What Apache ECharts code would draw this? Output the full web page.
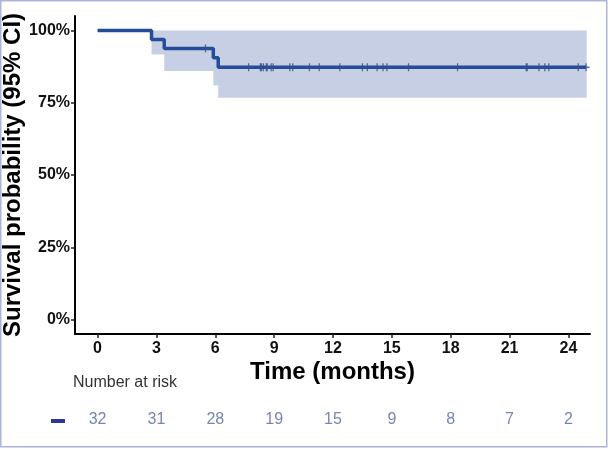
<!DOCTYPE html>
<html>
<head>
<meta charset="utf-8">
<script src="https://cdn.jsdelivr.net/npm/echarts@6/dist/echarts.min.js"></script>
<style>
html,body{margin:0;padding:0;background:#fff;}
#chart{width:608px;height:449px;}
</style>
</head>
<body>
<div id="chart"></div>
<script>
// Kaplan-Meier step points (months, survival)
var kmTimes    = [0, 2.75, 3.4, 5.9, 6.15, 24.9];
var kmSurv     = [1.0, 0.96875, 0.9375, 0.9052, 0.8728, 0.8728];
var ciLower    = [1.0, 0.917, 0.86, 0.81, 0.767, 0.767];
var ciUpper    = [1.0, 1.0, 1.0, 1.0, 1.0, 1.0];
// censoring times (months)
var censorTimes = [5.5, 7.7, 8.3, 8.35, 8.45, 8.6, 8.65, 8.85, 8.95,
                   9.8, 9.95, 10.8, 11.3,
                   12.35, 13.5, 13.75, 14.25, 14.55, 14.75,
                   15.85, 18.35,
                   21.85, 21.9, 22.5, 22.8, 23.0,
                   24.5, 24.9];
var xTicks = [0, 3, 6, 9, 12, 15, 18, 21, 24];
var yTicks = [0, 0.25, 0.5, 0.75, 1];
var riskTimes  = [0, 3, 6, 9, 12, 15, 18, 21, 24];
var riskCounts = [32, 31, 28, 19, 15, 9, 8, 7, 2];

var LINE = '#244c98';
var BAND = '#c6cfe3';
var FONT = 'Liberation Sans, Arial, sans-serif';

function survAt(t) {
  var s = kmSurv[0];
  for (var i = 0; i < kmTimes.length; i++) { if (kmTimes[i] <= t) s = kmSurv[i]; }
  return s;
}
var survData = kmTimes.map(function (t, i) { return [t, kmSurv[i]]; });
var bandData = [];
for (var i = 0; i < kmTimes.length - 1; i++) {
  bandData.push([kmTimes[i], kmTimes[i + 1], ciLower[i], ciUpper[i]]);
}
var censorData = censorTimes.map(function (t) { return [t, survAt(t)]; });
var riskData = riskTimes.map(function (t, i) { return [t, 0, riskCounts[i]]; });

var chart = echarts.init(document.getElementById('chart'), null, {renderer: 'canvas'});
chart.setOption({
  animation: false,
  backgroundColor: '#ffffff',
  textStyle: {fontFamily: FONT},
  grid: [
    {left: 75, right: 18, top: 16, bottom: 115, containLabel: false, outerBoundsMode: 'none'},
    {left: 75, right: 18, top: 405, height: 30, containLabel: false, outerBoundsMode: 'none'}
  ],
  xAxis: [{
    type: 'value', gridIndex: 0, min: -1.15, max: 25.1,
    name: 'Time (months)', nameLocation: 'middle', nameGap: 26, nameMoveOverlap: false,
    nameTextStyle: {fontSize: 24, fontWeight: 'bold', color: '#000', fontFamily: FONT},
    axisLine: {show: true, onZero: false, lineStyle: {color: '#000', width: 2}},
    axisTick: {show: true, customValues: xTicks, length: 4, lineStyle: {color: '#222', width: 1.5}},
    axisLabel: {customValues: xTicks, margin: 7, fontSize: 16, fontWeight: 'bold', color: '#111', fontFamily: FONT},
    splitLine: {show: false}
  }, {
    type: 'value', gridIndex: 1, min: -1.15, max: 25.1, show: false
  }],
  yAxis: [{
    type: 'value', gridIndex: 0, min: -0.05, max: 1.05,
    name: 'Survival probability (95% CI)', nameLocation: 'middle', nameGap: 50, nameMoveOverlap: false,
    nameTextStyle: {fontSize: 24, fontWeight: 'bold', color: '#000', fontFamily: FONT},
    axisLine: {show: true, onZero: false, lineStyle: {color: '#000', width: 2}},
    axisTick: {show: true, customValues: yTicks, length: 4, lineStyle: {color: '#222', width: 1.5}},
    axisLabel: {customValues: yTicks, margin: 5, fontSize: 16, fontWeight: 'bold', color: '#111', fontFamily: FONT,
      formatter: function (v) { return Math.round(v * 100) + '%'; }},
    splitLine: {show: false}
  }, {
    type: 'value', gridIndex: 1, min: -1, max: 1, show: false
  }],
  series: [
    {type: 'custom', xAxisIndex: 0, yAxisIndex: 0, data: bandData, z: 1,
     renderItem: function (params, api) {
       var p0 = api.coord([api.value(0), api.value(3)]);
       var p1 = api.coord([api.value(1), api.value(2)]);
       return {type: 'rect', shape: {x: p0[0], y: p0[1], width: p1[0] - p0[0] + 0.6, height: p1[1] - p0[1]},
               style: {fill: BAND}};
     }},
    {type: 'line', xAxisIndex: 0, yAxisIndex: 0, data: survData, step: 'end',
     symbol: 'none', lineStyle: {color: LINE, width: 3.5}, z: 3},
    {type: 'scatter', xAxisIndex: 0, yAxisIndex: 0, data: censorData,
     symbol: 'path://M-0.18,-1H0.18V1H-0.18Z M-1,-0.18H1V0.18H-1Z', symbolSize: [7, 8],
     itemStyle: {color: '#2f4f8f', opacity: 0.8}, z: 4},
    {type: 'scatter', xAxisIndex: 1, yAxisIndex: 1, data: riskData, symbolSize: 0,
     label: {show: true, position: 'inside', fontSize: 16, color: '#55669b', fontFamily: FONT,
       formatter: function (p) { return String(p.value[2]); }}, z: 4}
  ],
  graphic: [
    {type: 'rect', shape: {x: 0.75, y: 0.75, width: 606, height: 446}, style: {fill: 'none', stroke: '#aeb3d8', lineWidth: 1.5}, silent: true},
    {type: 'text', left: 73, top: 375, style: {text: 'Number at risk', font: '16px ' + FONT, fill: '#333'}},
    {type: 'rect', shape: {x: 51, y: 419, width: 14, height: 4}, style: {fill: '#33349a'}}
  ]
});
</script>
</body>
</html>
